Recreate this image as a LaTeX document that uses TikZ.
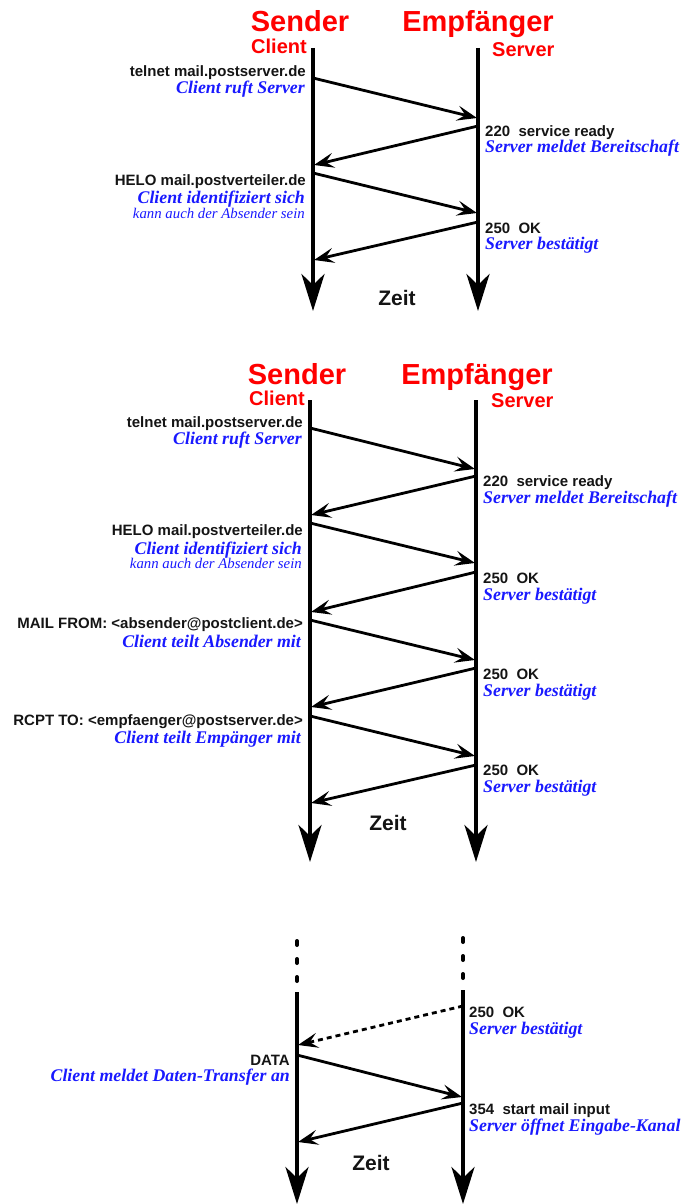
\documentclass[tikz,border=0pt]{standalone}
\usepackage{fontspec}
\setmainfont{Liberation Serif}
\setsansfont{Liberation Sans}
\usetikzlibrary{arrows.meta}
\definecolor{tred}{RGB}{255,0,0}
\definecolor{tblue}{RGB}{25,25,255}
\definecolor{tblack}{RGB}{20,20,20}
\tikzset{
  ttl/.style={text=tred, font=\sffamily\bfseries\fontsize{29}{32}\selectfont, inner sep=0pt, anchor=base},
  subttl/.style={text=tred, font=\sffamily\bfseries\fontsize{20}{22}\selectfont, inner sep=0pt},
  cmd/.style={text=tblack, font=\sffamily\bfseries\fontsize{15}{16}\selectfont, inner sep=0pt},
  desc/.style={text=tblue, font=\rmfamily\bfseries\itshape\fontsize{17.8}{19}\selectfont, inner sep=0pt},
  note/.style={text=tblue, font=\rmfamily\itshape\fontsize{14.8}{16}\selectfont, inner sep=0pt},
  lft/.style={anchor=base east},
  rgt/.style={anchor=base west},
  zeit/.style={text=tblack, font=\sffamily\bfseries\fontsize{21}{23}\selectfont, inner sep=0pt, anchor=base},
  life/.style={line width=4pt, -{Stealth[length=37pt,width=23pt,inset=11pt]}},
  msg/.style={line width=2.8pt, -{Stealth[length=20pt,width=15pt,inset=8pt]}},
  msgdot/.style={msg, dash pattern=on 5pt off 4pt},
  ldots/.style={line width=4pt, line cap=round, dash pattern=on 4pt off 14pt},
}
\begin{document}
\begin{tikzpicture}[x=1pt,y=-1pt]
\useasboundingbox (0,0) rectangle (687,1204);
% ---------------- Section 1 ----------------
\coordinate (c1t) at (313,48); \coordinate (c1b) at (313,311);
\coordinate (s1t) at (478,48); \coordinate (s1b) at (478,311);
\draw[life] (c1t) -- (c1b);
\draw[life] (s1t) -- (s1b);
\node[ttl] (snd1) at (300,32) {Sender};
\node[ttl] (emp1) at (478,32) {Empfänger};
\node[subttl, anchor=base east] (cli1) at (307,54) {Client};
\node[subttl, anchor=base west] (srv1) at (492,57) {Server};
\coordinate (a1s) at (313,78);  \coordinate (a1e) at (477,118);
\coordinate (a2s) at (478,126); \coordinate (a2e) at (314,165);
\coordinate (a3s) at (313,173); \coordinate (a3e) at (477,213);
\coordinate (a4s) at (478,222); \coordinate (a4e) at (314,260);
\draw[msg] (a1s) -- (a1e);
\draw[msg] (a2s) -- (a2e);
\draw[msg] (a3s) -- (a3e);
\draw[msg] (a4s) -- (a4e);
\node[cmd, lft] (t1a) at (306,77) {telnet mail.postserver.de};
\node[desc, lft] (t1b) at (305,94) {Client ruft Server};
\node[cmd, lft] (t1c) at (306,185) {HELO mail.postverteiler.de};
\node[desc, lft] (t1d) at (305,203) {Client identifiziert sich};
\node[note, lft] (t1e) at (305,218) {kann auch der Absender sein};
\node[cmd, rgt] (r1a) at (485,136) {220~ service ready};
\node[desc, rgt] (r1b) at (485,153) {Server meldet Bereitschaft};
\node[cmd, rgt] (r1c) at (485,233) {250~ OK};
\node[desc, rgt] (r1d) at (485,249) {Server bestätigt};
\node[zeit] (z1) at (397,305) {Zeit};
% ---------------- Section 2 ----------------
\coordinate (c2t) at (310,400); \coordinate (c2b) at (310,862);
\coordinate (s2t) at (476,400); \coordinate (s2b) at (476,862);
\draw[life] (c2t) -- (c2b);
\draw[life] (s2t) -- (s2b);
\node[ttl] (snd2) at (297,384) {Sender};
\node[ttl] (emp2) at (477,384) {Empfänger};
\node[subttl, anchor=base east] (cli2) at (305,405) {Client};
\node[subttl, anchor=base west] (srv2) at (491,407) {Server};
\coordinate (b1s) at (310,428); \coordinate (b1e) at (475,469);
\coordinate (b2s) at (476,476); \coordinate (b2e) at (311,515);
\coordinate (b3s) at (310,523); \coordinate (b3e) at (475,563);
\coordinate (b4s) at (476,572); \coordinate (b4e) at (311,612);
\coordinate (b5s) at (310,620); \coordinate (b5e) at (475,660);
\coordinate (b6s) at (476,668); \coordinate (b6e) at (311,707);
\coordinate (b7s) at (310,716); \coordinate (b7e) at (475,756);
\coordinate (b8s) at (476,765); \coordinate (b8e) at (311,803);
\foreach \i in {1,...,8} {\draw[msg] (b\i s) -- (b\i e);}
\node[cmd, lft] (t2a) at (303,427) {telnet mail.postserver.de};
\node[desc, lft] (t2b) at (302,444) {Client ruft Server};
\node[cmd, lft] (t2c) at (303,535) {HELO mail.postverteiler.de};
\node[desc, lft] (t2d) at (302,554) {Client identifiziert sich};
\node[note, lft] (t2e) at (302,568) {kann auch der Absender sein};
\node[cmd, lft] (t2f) at (303,628) {MAIL FROM: <absender@postclient.de>};
\node[desc, lft] (t2g) at (301,647) {Client teilt Absender mit};
\node[cmd, lft] (t2h) at (303,725) {RCPT TO: <empfaenger@postserver.de>};
\node[desc, lft] (t2i) at (301,743) {Client teilt Empänger mit};
\node[cmd, rgt] (r2a) at (483,486) {220~ service ready};
\node[desc, rgt] (r2b) at (483,503) {Server meldet Bereitschaft};
\node[cmd, rgt] (r2c) at (483,583) {250~ OK};
\node[desc, rgt] (r2d) at (483,600) {Server bestätigt};
\node[cmd, rgt] (r2e) at (483,679) {250~ OK};
\node[desc, rgt] (r2f) at (483,696) {Server bestätigt};
\node[cmd, rgt] (r2g) at (483,775) {250~ OK};
\node[desc, rgt] (r2h) at (483,792) {Server bestätigt};
\node[zeit] (z2) at (388,830) {Zeit};
% ---------------- Section 3 ----------------
\coordinate (c3d) at (297,941); \coordinate (c3e) at (297,986);
\coordinate (s3d) at (463,938); \coordinate (s3e) at (463,983);
\draw[ldots] (c3d) -- (c3e);
\draw[ldots] (s3d) -- (s3e);
\coordinate (c3t) at (297,992); \coordinate (c3b) at (297,1204);
\coordinate (s3t) at (463,990); \coordinate (s3b) at (463,1204);
\draw[life] (c3t) -- (c3b);
\draw[life] (s3t) -- (s3b);
\coordinate (d1s) at (463,1006); \coordinate (d1e) at (298,1045);
\coordinate (d2s) at (297,1055); \coordinate (d2e) at (462,1097);
\coordinate (d3s) at (463,1103); \coordinate (d3e) at (298,1142);
\draw[msgdot] (d1s) -- (d1e);
\draw[msg] (d2s) -- (d2e);
\draw[msg] (d3s) -- (d3e);
\node[cmd, rgt] (r3a) at (469,1017) {250~ OK};
\node[desc, rgt] (r3b) at (469,1034) {Server bestätigt};
\node[cmd, lft] (t3a) at (290,1065) {DATA};
\node[desc, lft] (t3b) at (290,1081) {Client meldet Daten-Transfer an};
\node[cmd, rgt] (r3c) at (469,1114) {354~ start mail input};
\node[desc, rgt] (r3d) at (469,1131) {Server öffnet Eingabe-Kanal};
\node[zeit] (z3) at (371,1170) {Zeit};
\end{tikzpicture}
\end{document}
